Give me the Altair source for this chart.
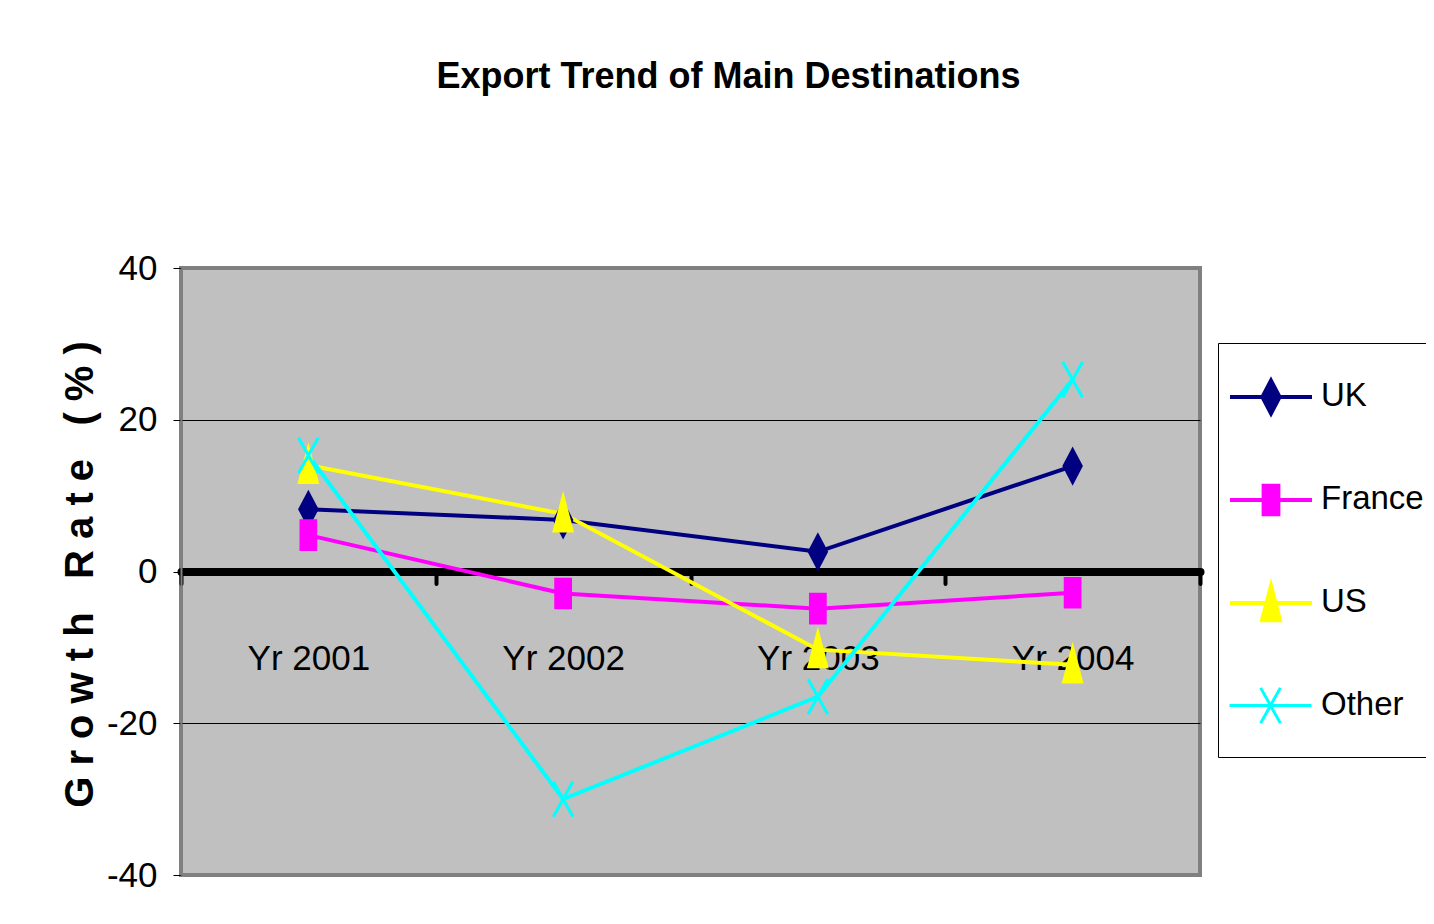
import altair as alt
import pandas as pd

# ---- data ----
years = ["Yr 2001", "Yr 2002", "Yr 2003", "Yr 2004"]
series = ["UK", "France", "US", "Other"]
uk = [8.2, 6.8, 2.6, 13.9]
france = [4.8, -2.9, -4.9, -2.8]
us = [14.0, 7.6, -10.3, -12.3]
other = [15.3, -30.0, -16.5, 25.3]
y_ticks = [-40, -20, 0, 20, 40]
y_title = "G r o w t h\u00a0\u00a0 R a t e\u00a0\u00a0 ( % )"

# ---- style ----
colors = ["#000080", "#FF00FF", "#FFFF00", "#00FFFF"]
FONT = "Liberation Sans Narrow, Liberation Sans, Arial, sans-serif"
SYM = 6724  # 82 px symbols -> 41 px per path unit
BOX = "M-1,-1M1,1"  # invisible extent so every key symbol has the same bounds
marker_paths = [
    "M0,-0.4L0.21,0L0,0.4L-0.21,0Z",
    "M-0.18,-0.35L0.18,-0.35L0.18,0.35L-0.18,0.35Z",
    "M0,-0.42L0.22,0.42L-0.22,0.42Z",
    "M-0.24,-0.43L0.24,0.43M0.24,-0.43L-0.24,0.43",
]
legend_paths = [BOX + "M-1,0L1,0" + p for p in marker_paths]

rows = []
for name, vals in zip(series, [uk, france, us, other]):
    for yr, v in zip(years, vals):
        rows.append({"year": yr, "series": name, "value": v})
df = pd.DataFrame(rows)

x_enc = alt.X(
    "year:N",
    sort=years,
    bandPosition=0.5,
    scale=alt.Scale(type="band", paddingInner=0, paddingOuter=0),
    axis=alt.Axis(
        title=None, orient="bottom", offset=-303.5,
        domainColor="black", domainWidth=8, domainCap="round",
        tickBand="extent", tickSize=12, tickWidth=4, tickColor="black", tickCap="round",
        labelFont=FONT, labelFontSize=35, labelColor="black", labelPadding=58,
        labelAngle=0, grid=False,
    ),
)
y_enc = alt.Y(
    "value:Q",
    scale=alt.Scale(domain=[-40, 40], nice=False, zero=False),
    axis=alt.Axis(
        values=y_ticks, title=y_title, labelExpr="datum.value + ''",
        titleFont=FONT, titleFontSize=40, titleFontWeight="bold", titleColor="black",
        titleAngle=270, titleX=-101, titleY=306, titleAlign="center", titleBaseline="middle",
        labelFont=FONT, labelFontSize=35, labelColor="black", labelPadding=16,
        tickSize=8, tickColor="black", tickWidth=1,
        domainColor="#808080", domainWidth=2,
        grid=True, gridWidth=1,
        gridColor={"condition": {"test": "abs(datum.value) == 40", "value": "#808080"}, "value": "black"},
    ),
)

# main legend: box + labels (its own symbols are hidden)
box_legend = alt.Legend(
    title=None, orient="none", legendX=1037, legendY=75,
    padding=11, rowPadding=20, symbolSize=SYM, symbolType="circle", symbolOpacity=0,
    labelFont=FONT, labelFontSize=33, labelColor="black", labelOffset=8,
    strokeColor="black", fillColor="white", zindex=0,
)

lines = alt.Chart(df).mark_line(strokeWidth=4).encode(
    x=x_enc, y=y_enc,
    color=alt.Color("series:N", sort=series, scale=alt.Scale(range=colors), legend=box_legend),
)

points = alt.Chart(df).mark_point(size=SYM, strokeWidth=3, opacity=1, filled=True).encode(
    x=x_enc, y=y_enc,
    color=alt.Color("series:N", sort=series, scale=alt.Scale(range=colors), legend=None),
    stroke=alt.Stroke("series:N", sort=series, scale=alt.Scale(range=colors), legend=None),
    shape=alt.Shape("series:N", scale=alt.Scale(domain=series, range=marker_paths), legend=None),
)

# one single-entry legend per series (stroke channel), drawing the line + marker key symbol
key_layers = []
for i, (name, col, path) in enumerate(zip(series, colors, legend_paths)):
    sw = 4 if i < 3 else 3
    key_layers.append(
        alt.Chart(df).transform_filter("false").mark_point(
            filled=False, shape=path, fill=col, strokeWidth=sw, size=SYM, opacity=1,
        ).encode(
            x=x_enc, y=y_enc,
            stroke=alt.Stroke(
                "series:N",
                scale=alt.Scale(domain=[name], range=[col]),
                legend=alt.Legend(
                    title=None, orient="none", legendX=1047, legendY=86 + 103 * i,
                    padding=0, symbolSize=SYM, symbolOpacity=1, symbolType=path,
                    symbolFillColor=col, symbolStrokeWidth=sw,
                    labelExpr="''", labelFontSize=33, labelFont=FONT, zindex=1,
                ),
            ),
        )
    )

chart = alt.layer(lines, points, *key_layers).resolve_scale(stroke="independent").properties(
    width=1019, height=607,
    title=alt.TitleParams(
        text="Export Trend of Main Destinations", font=FONT, fontSize=36,
        fontWeight="bold", color="black", anchor="middle", frame="group", dx=38, offset=155,
    ),
    padding={"left": 173, "top": 260, "right": 226, "bottom": 33},
    autosize=alt.AutoSizeParams(type="none"),
    background="white",
).configure_view(fill="#C0C0C0", stroke="#808080", strokeWidth=4)

chart.save("out.html", embed_options={"renderer": "svg", "actions": False})
